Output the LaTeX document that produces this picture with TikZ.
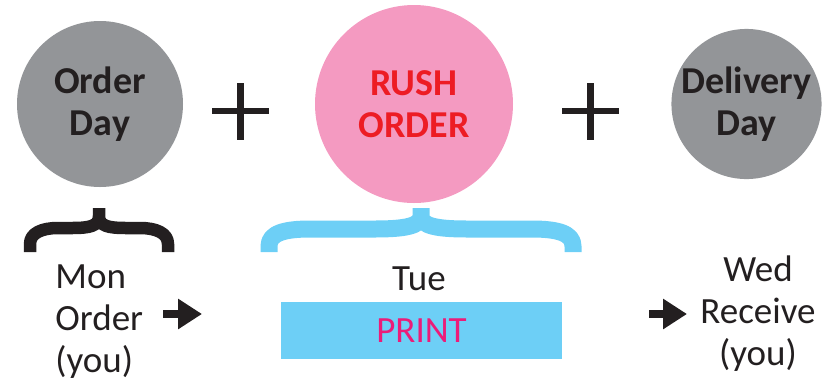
\documentclass[tikz,border=0pt]{standalone}
\usepackage{fontspec}
\setmainfont{Carlito}
\usetikzlibrary{arrows.meta}
\definecolor{ink}{HTML}{231F20}
\definecolor{cgray}{HTML}{939598}
\definecolor{cpink}{HTML}{F49AC1}
\definecolor{cred}{HTML}{ED1C24}
\definecolor{cblue}{HTML}{6DCFF6}
\definecolor{cmag}{HTML}{EC1C79}
\tikzstyle{dayc}=[shape=circle,
                  fill=cgray,
                  text=ink,
                  inner sep=0pt,
                  align=center,
                  font=\fontsize{19}{21}\selectfont\bfseries]
\tikzstyle{rushc}=[shape=circle,
                   fill=cpink,
                   text=cred,
                   inner sep=0pt,
                   align=center,
                   minimum size=99pt,
                   font=\fontsize{19}{21}\selectfont\bfseries]
\tikzstyle{lbl}=[text=ink,
                 inner sep=0pt,
                 font=\fontsize{18.5}{21}\selectfont]
\tikzstyle{printbox}=[shape=rectangle,
                      fill=cblue,
                      text=cmag,
                      minimum width=140.5pt,
                      minimum height=28.5pt,
                      font=\fontsize{18.5}{21}\selectfont]
\tikzstyle{fatarrow}=[draw=ink,
                      line width=4pt,
                      -{Triangle[length=12pt,width=14.5pt]}]
\tikzstyle{plussign}=[draw=ink, line width=3.25pt]
\tikzstyle{bracepath}=[line width=6.25pt, line join=round]

\begin{document}
\begin{tikzpicture}[x=0.5pt,y=-0.5pt]
\useasboundingbox (0,0) rectangle (826,387);

% the three day circles
\node[dayc,minimum size=83pt] (od) at (100,104) {Order\\Day};
\node[rushc] (ro) at (414,104) {RUSH\\ORDER};
\node[dayc,minimum size=74pt] (dd) at (746.5,104) {Delivery\\Day};

% plus signs between them
\foreach \cx in {240.5,590.5}
  \draw[plussign] (\cx-28.5,111) -- (\cx+28.5,111)
                  (\cx,83) -- (\cx,140);

% braces under the circles
\draw[bracepath,draw=ink]
  (30,252) -- (30,244) .. controls (30,233) and (42,228) .. (58,228)
  -- (72,228) .. controls (90,228) and (99,226) .. (99,216) -- (99,208)
  (99,216) .. controls (99,226) and (108,228) .. (126,228)
  -- (140,228) .. controls (156,228) and (168,233) .. (168,244) -- (168,252);
\draw[bracepath,draw=cblue,line width=8.5pt]
  (269,252) -- (269,246) .. controls (269,233) and (285,229) .. (310,229)
  -- (375,229) .. controls (405,229) and (421,226) .. (421,216) -- (421,208)
  (421,216) .. controls (421,226) and (437,229) .. (467,229)
  -- (532,229) .. controls (557,229) and (573,233) .. (573,246) -- (573,252);

% day labels (base = last line)
\node[lbl,align=left,anchor=base west] (mon) at (55,372) {Mon\\Order\\(you)};
\node[lbl,anchor=base] (tue) at (419,290) {Tue};
\node[printbox] (print) at (421.5,330.5) {PRINT};
\node[lbl,align=center,anchor=base] (wed) at (758,365) {Wed\\Receive\\(you)};

% arrows
\coordinate (a1s) at (163,314);
\coordinate (a1e) at (202,314);
\coordinate (a2s) at (649,314);
\coordinate (a2e) at (687,314);
\draw[fatarrow] (a1s) -- (a1e);
\draw[fatarrow] (a2s) -- (a2e);
\end{tikzpicture}
\end{document}
